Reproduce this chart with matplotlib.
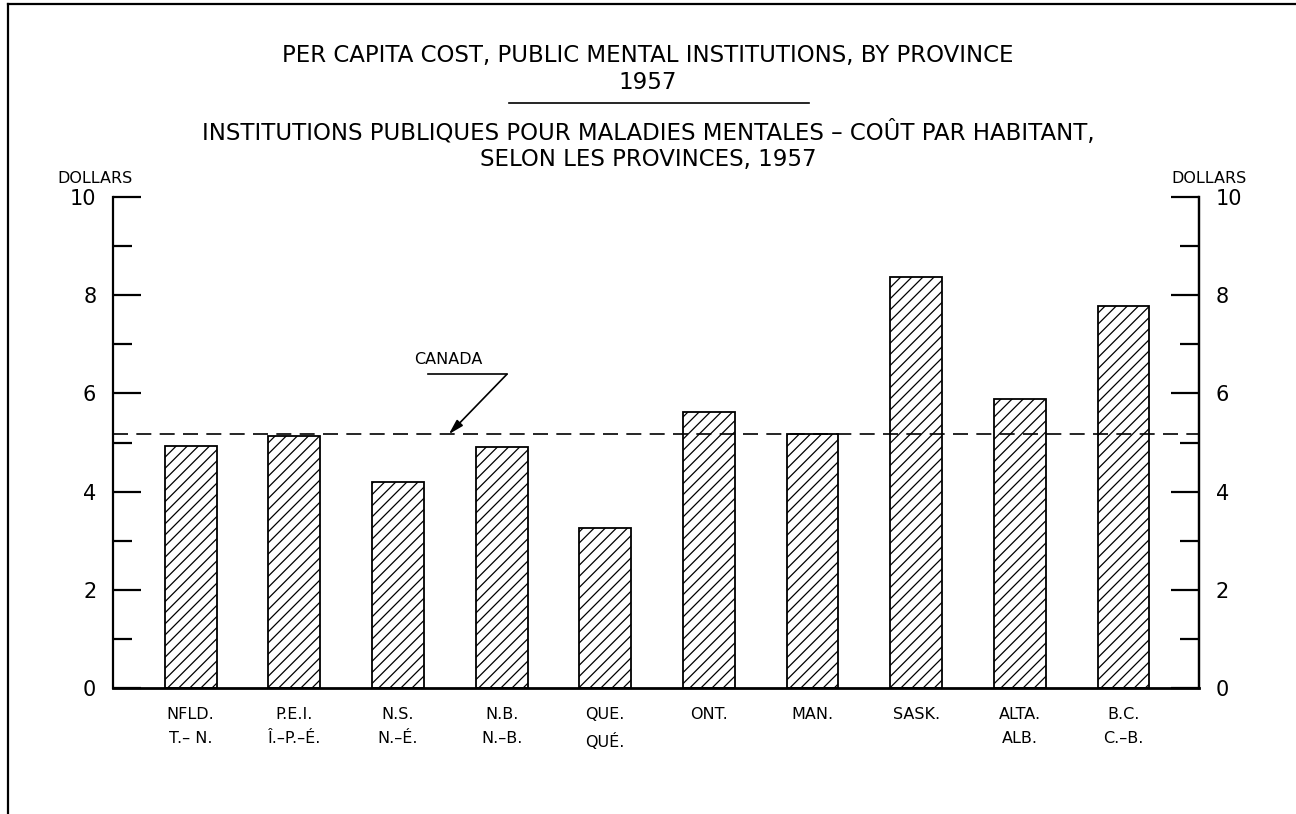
import matplotlib
matplotlib.use("Agg")
import matplotlib.pyplot as plt
from matplotlib.lines import Line2D
import numpy as np

# ---------------- data ----------------
provinces_en = ["NFLD.", "P.E.I.", "N.S.", "N.B.", "QUE.", "ONT.", "MAN.", "SASK.", "ALTA.", "B.C."]
provinces_fr = ["T.– N.", "Î.–P.–É.", "N.–É.", "N.–B.", "QUÉ.", "", "", "", "ALB.", "C.–B."]
cost_dollars = [4.92, 5.13, 4.19, 4.90, 3.25, 5.62, 5.18, 8.38, 5.88, 7.78]
canada_avg = 5.17
y_ticks_major = [0, 2, 4, 6, 8, 10]
y_ticks_minor = [1, 3, 5, 7, 9]

title_en = "PER CAPITA COST, PUBLIC MENTAL INSTITUTIONS, BY PROVINCE"
title_year = "1957"
title_fr1 = "INSTITUTIONS PUBLIQUES POUR MALADIES MENTALES – COÛT PAR HABITANT,"
title_fr2 = "SELON LES PROVINCES, 1957"
unit_label = "DOLLARS"
canada_label = "CANADA"

# ---------------- style ----------------
plt.rcParams["font.family"] = ["DejaVu Sans"]
plt.rcParams["hatch.linewidth"] = 0.9

fig = plt.figure(figsize=(12.96, 8.14), dpi=100)
ax = fig.add_axes([0.0872, 0.1548, 0.838, 0.603])

x = np.arange(len(cost_dollars))
ax.bar(x, cost_dollars, width=0.5, facecolor="white", edgecolor="black",
       linewidth=1.3, hatch="///", zorder=2)

ax.set_xlim(-0.75, 9.73)
ax.set_ylim(0, 10)

# Canada average dashed line
ax.axhline(canada_avg, color="black", lw=1.2, dashes=(9, 5), zorder=3)

# annotation: CANADA with leader and arrow
lead_y = 6.39
lead_x0, lead_x1 = 2.29, 3.05
tip_x = 2.49
ax.plot([lead_x0, lead_x1], [lead_y, lead_y], color="black", lw=1.2)
ax.annotate("", xy=(tip_x, canada_avg), xytext=(lead_x1, lead_y),
            arrowprops=dict(arrowstyle="-|>,head_length=0.9,head_width=0.25",
                            color="black", lw=1.2, shrinkA=0, shrinkB=0))
ax.text(tip_x, 6.70, canada_label, ha="center", va="center", fontsize=11.5)

# spines
ax.spines["top"].set_visible(False)
ax.spines["bottom"].set_linewidth(2.0)
ax.spines["left"].set_linewidth(1.6)
ax.spines["right"].set_linewidth(1.6)

# y ticks left
ax.set_yticks(y_ticks_major)
ax.set_yticks(y_ticks_minor, minor=True)
ax.set_yticklabels([str(v) for v in y_ticks_major], fontsize=15)
ax.tick_params(axis="y", which="major", direction="in", length=20, width=1.6, pad=12)
ax.tick_params(axis="y", which="minor", direction="in", length=13.5, width=1.6)

# x ticks labels
labels = [en + ("\n" + fr if fr else "") for en, fr in zip(provinces_en, provinces_fr)]
ax.set_xticks(x)
ax.set_xticklabels(labels, fontsize=11.5, linespacing=1.75)
ax.tick_params(axis="x", length=0, pad=14)

# right axis
ax2 = ax.twinx()
ax2.set_ylim(0, 10)
ax2.set_yticks(y_ticks_major)
ax2.set_yticks(y_ticks_minor, minor=True)
ax2.set_yticklabels([str(v) for v in y_ticks_major], fontsize=15)
ax2.tick_params(axis="y", which="major", direction="in", length=20, width=1.6, pad=12)
ax2.tick_params(axis="y", which="minor", direction="in", length=13.5, width=1.6)
for s in ["top", "left", "bottom"]:
    ax2.spines[s].set_visible(False)
ax2.spines["right"].set_linewidth(1.6)

# unit labels
fig.text(0.073, 0.781, unit_label, ha="center", va="center", fontsize=11.5)
fig.text(0.933, 0.781, unit_label, ha="center", va="center", fontsize=11.5)

# titles
tkw = dict(ha="center", va="center", fontsize=16.5)
fig.text(0.5, 0.932, title_en, **tkw)
fig.text(0.5, 0.899, title_year, **tkw)
fig.add_artist(Line2D([0.393, 0.624], [0.874, 0.874], color="black", lw=1.2,
                      transform=fig.transFigure))
fig.text(0.5, 0.837, title_fr1, **tkw)
fig.text(0.5, 0.804, title_fr2, **tkw)

# page border (left and top)
fig.add_artist(Line2D([0.0062, 0.0062], [0.0, 0.995], color="black", lw=1.6,
                      transform=fig.transFigure))
fig.add_artist(Line2D([0.0062, 1.0], [0.995, 0.995], color="black", lw=1.6,
                      transform=fig.transFigure))

fig.savefig("out.png", dpi=100)
